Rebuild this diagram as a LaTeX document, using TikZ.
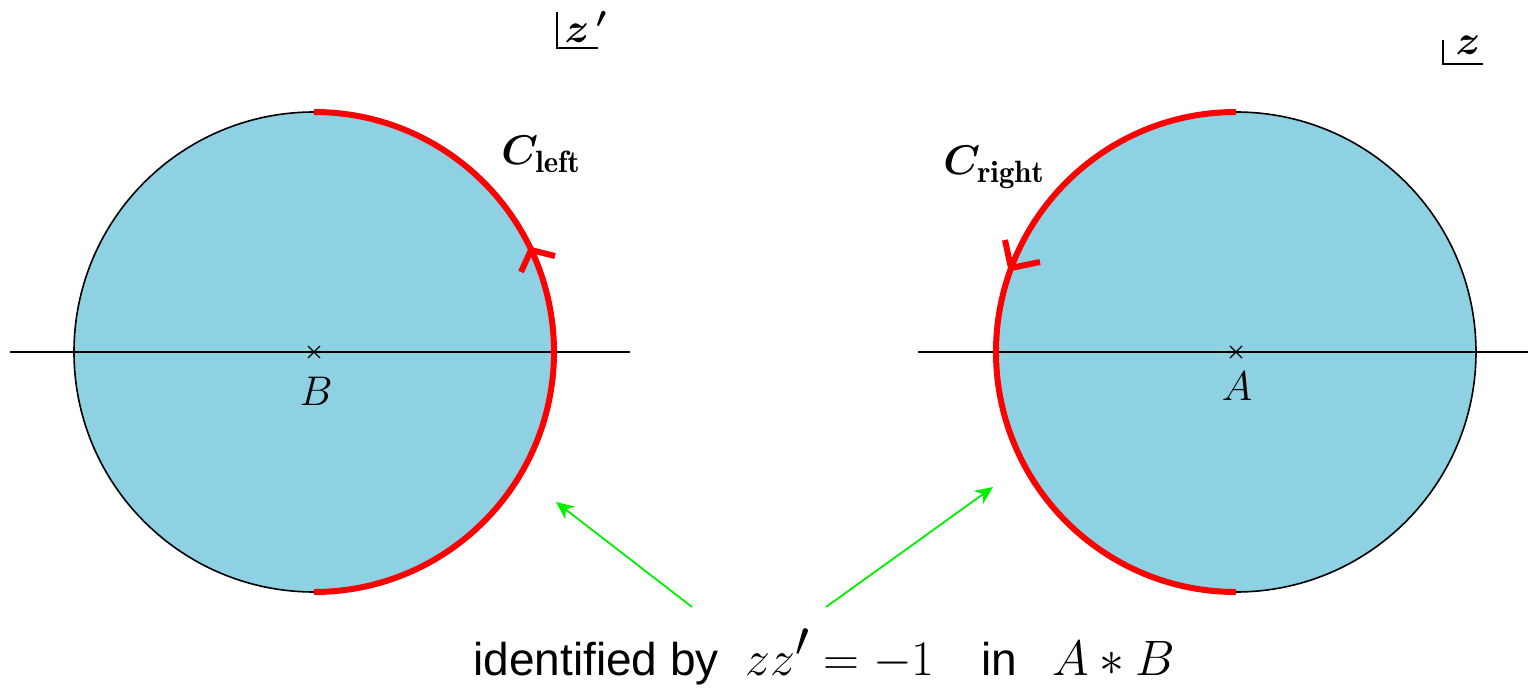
\documentclass[tikz,border=0pt]{standalone}
\usepackage{fontspec}
\usepackage{amsmath,bm}
\newfontfamily\labelsans{Liberation Sans}
\usetikzlibrary{arrows.meta,calc}
\definecolor{diskblue}{RGB}{141,209,226}
\definecolor{arcred}{RGB}{255,0,0}
\definecolor{arrgreen}{RGB}{0,240,0}
\begin{document}
\begin{tikzpicture}[x=0.5pt,y=0.5pt,
  disk/.style={fill=diskblue,draw=black,line width=0.8pt},
  axisline/.style={draw=black,line width=1.2pt},
  contour/.style={draw=arcred,line width=3pt},
  barb/.style={draw=arcred,line width=3pt},
  pointer/.style={draw=arrgreen,line width=0.9pt,-{Stealth[length=9pt,width=8pt]}},
  xmark/.style={draw=black,line width=0.6pt},
  planelabel/.style={inner sep=0pt},
  captext/.style={anchor=base west,inner sep=0pt,font=\fontsize{23}{27}\labelsans},
  capmath/.style={anchor=base west,inner sep=0pt,font=\fontsize{33}{37}\selectfont},
  capmathb/.style={anchor=base west,inner sep=0pt,font=\fontsize{30}{34}\selectfont},
  ]
\useasboundingbox (0,0) rectangle (1528,687);
% centres
\coordinate (B) at (314,335);
\coordinate (A) at (1236,335);
% disks
\path[disk] (B) circle[radius=240];
\path[disk] (A) circle[radius=240];
% real axes
\coordinate (Lax1) at (10,335); \coordinate (Lax2) at (630,335);
\coordinate (Rax1) at (918,335); \coordinate (Rax2) at (1528,335);
\draw[axisline] (Lax1) -- (Lax2);
\draw[axisline] (Rax1) -- (Rax2);
% red contours
\draw[contour] (B) ++(90:240) arc[start angle=90,end angle=-90,radius=240];
\draw[contour] (A) ++(90:240) arc[start angle=90,end angle=270,radius=240];
% arrow barbs on contours
\coordinate (Ltip) at (531,437);
\coordinate (Lb1) at (555,431); \coordinate (Lb2) at (521,415);
\draw[barb] (Lb1) -- (Ltip) -- (Lb2);
\coordinate (Rtip) at (1011,419);
\coordinate (Rb1) at (1005,447); \coordinate (Rb2) at (1040,425);
\draw[barb] (Rb1) -- (Rtip) -- (Rb2);
% crosses
\draw[xmark] ($(B)+(-6,-6)$) -- ($(B)+(6,6)$) ($(B)+(-6,6)$) -- ($(B)+(6,-6)$);
\draw[xmark] ($(A)+(-6,-6)$) -- ($(A)+(6,6)$) ($(A)+(-6,6)$) -- ($(A)+(6,-6)$);
\node[anchor=base] (Blab) at (316,282) {\fontsize{20.5}{24}\selectfont $B$};
\node[anchor=base] (Alab) at (1237,287) {\fontsize{20.5}{24}\selectfont $A$};
% contour labels
\node[anchor=base west,inner sep=0pt] (Cl) at (501,522) {\fontsize{22}{26}\selectfont $\bm{C}_{\mathbf{left}}$};
\node[anchor=base west,inner sep=0pt] (Cr) at (943,512) {\fontsize{22}{26}\selectfont $\bm{C}_{\mathbf{right}}$};
% plane labels
\coordinate (zp1) at (557,675); \coordinate (zp2) at (557,639); \coordinate (zp3) at (598,639);
\draw[axisline] (zp1) -- (zp2) -- (zp3);
\node[planelabel] (zpl) at (586,660) {\fontsize{21}{24}\selectfont $\bm{z}\,\bm{'}$};
\coordinate (z1) at (1443,647); \coordinate (z2) at (1443,623); \coordinate (z3) at (1483,623);
\draw[axisline] (z1) -- (z2) -- (z3);
\node[planelabel] (zl) at (1468,642) {\fontsize{21}{24}\selectfont $\bm{z}$};
% caption
\node[captext] (cap1) at (473,12) {identified by};
\node[capmath] (cap2) at (745,12) {$zz'=-1$};
\node[captext] (cap3) at (981,12) {in};
\node[capmathb] (cap4) at (1052,12) {$A*B$};
\coordinate (gl) at (692,80); \coordinate (gr) at (826,80);
\coordinate (gltip) at (556,185); \coordinate (grtip) at (993,200);
\draw[pointer] (gl) -- (gltip);
\draw[pointer] (gr) -- (grtip);
\end{tikzpicture}
\end{document}
